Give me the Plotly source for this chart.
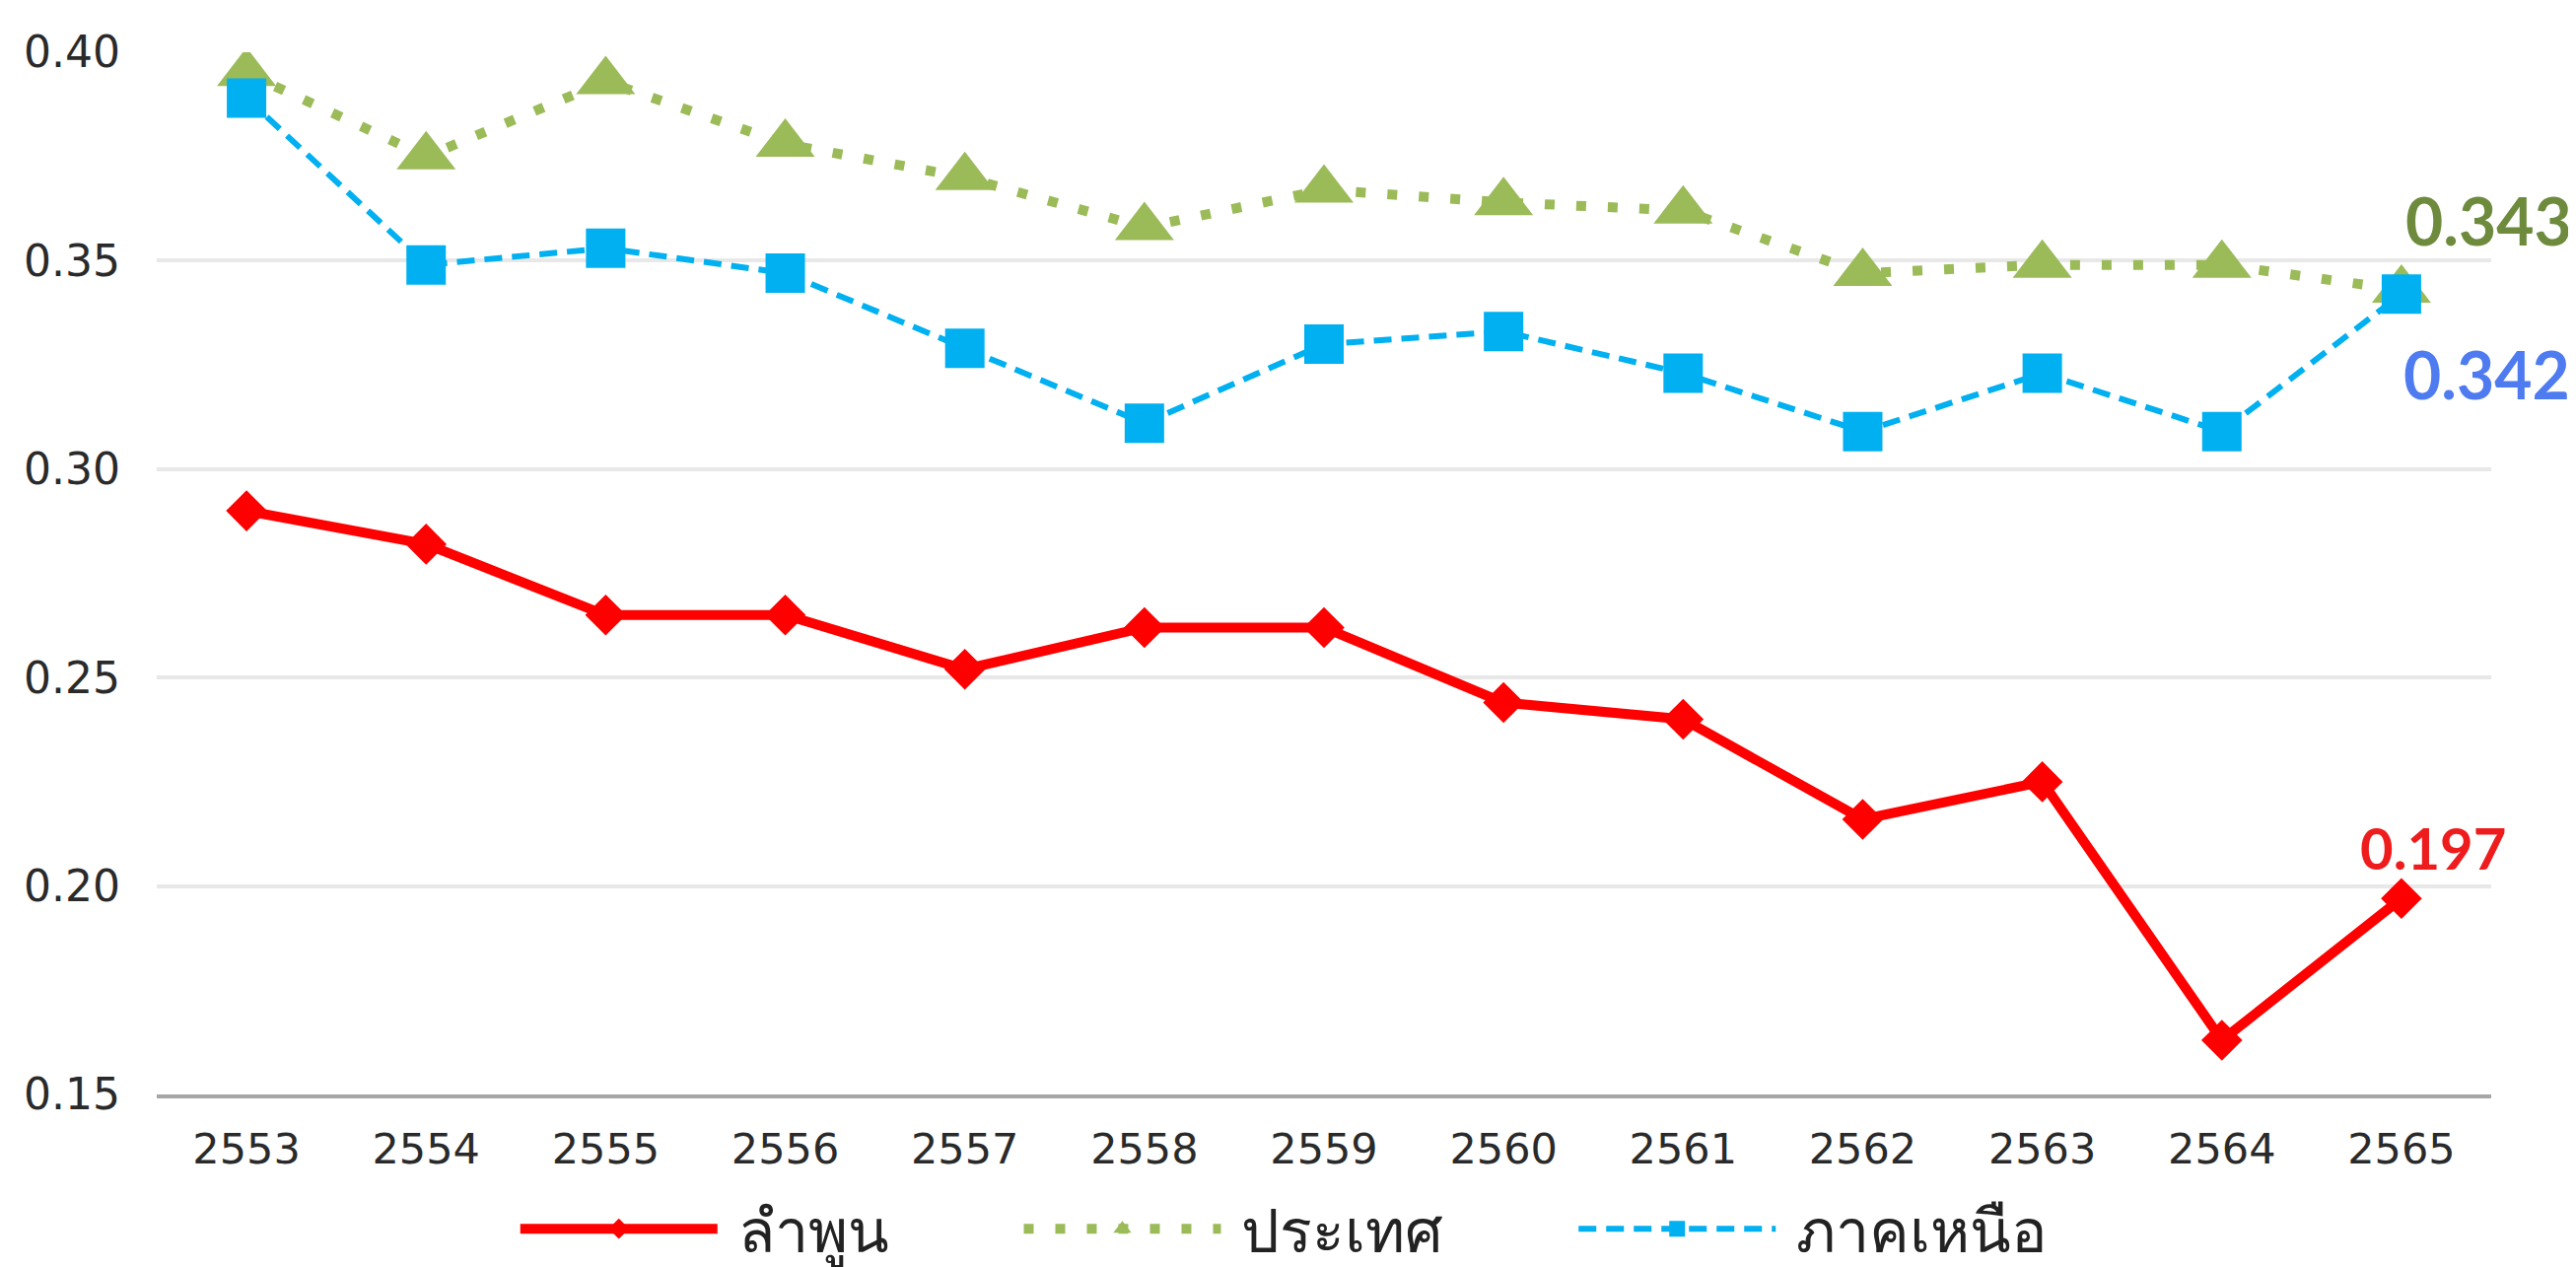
import plotly.graph_objects as go

years = ["2553", "2554", "2555", "2556", "2557", "2558", "2559", "2560", "2561", "2562", "2563", "2564", "2565"]
lamphun = [0.290, 0.282, 0.265, 0.265, 0.252, 0.262, 0.262, 0.244, 0.240, 0.216, 0.225, 0.163, 0.197]
country = [0.395, 0.375, 0.393, 0.378, 0.370, 0.358, 0.367, 0.364, 0.362, 0.347, 0.349, 0.349, 0.343]
north = [0.389, 0.349, 0.353, 0.347, 0.329, 0.311, 0.330, 0.333, 0.323, 0.309, 0.323, 0.309, 0.342]
y_ticks = [0.15, 0.20, 0.25, 0.30, 0.35, 0.40]
y_tick_text = ["0.15", "0.20", "0.25", "0.30", "0.35", "0.40"]

RED = "#FF0000"
GREEN = "#9BBB59"
BLUE = "#00B0F0"
NB = "\u00a0"

fig = go.Figure()
fig.add_trace(go.Scatter(
    x=years, y=lamphun, name=NB + "ลำพูน" + NB * 8, mode="lines+markers",
    line=dict(color=RED, width=10),
    marker=dict(symbol="diamond", size=32, color=RED),
))
fig.add_trace(go.Scatter(
    x=years, y=country, name=NB + "ประเทศ" + NB * 8, mode="lines+markers",
    line=dict(color=GREEN, width=10, dash="10px,22px"),
    marker=dict(symbol="triangle-up", size=52, color=GREEN),
))
fig.add_trace(go.Scatter(
    x=years, y=north, name=NB + "ภาคเหนือ", mode="lines+markers",
    line=dict(color=BLUE, width=6, dash="18px,10px"),
    marker=dict(symbol="square", size=40, color=BLUE),
))

last = len(years) - 1
ann_font = "Lato, Roboto, sans-serif"
fig.add_annotation(x=last, y=country[-1], text=f"<b>{country[-1]:.3f}</b>", showarrow=False,
                   xanchor="left", yanchor="middle", xshift=2, yshift=71,
                   font=dict(family=ann_font, size=66, color="#6E8B3D"))
fig.add_annotation(x=last, y=north[-1], text=f"<b>{north[-1]:.3f}</b>", showarrow=False,
                   xanchor="left", yanchor="middle", xshift=0, yshift=-81,
                   font=dict(family=ann_font, size=66, color="#4F7BF0"))
fig.add_annotation(x=last, y=lamphun[-1], text=f"<b>{lamphun[-1]:.3f}</b>", showarrow=False,
                   xanchor="center", yanchor="middle", xshift=32, yshift=52,
                   font=dict(family=ann_font, size=58, color="#EE1C1C"))

fig.update_layout(
    width=2613, height=1285,
    margin=dict(l=151, r=94, t=45, b=183, autoexpand=False),
    paper_bgcolor="white", plot_bgcolor="white",
    showlegend=True,
    legend=dict(orientation="h", x=0.483, xanchor="center",
                yref="container", y=0.0, yanchor="bottom",
                font=dict(family="Tahoma, Noto Sans, sans-serif", size=61, color="#222"),
                itemwidth=200, tracegroupgap=0),
    font=dict(family="DejaVu Sans, Tahoma, sans-serif", color="#333"),
)
fig.update_xaxes(
    type="category", range=[-0.5, last + 0.5], showgrid=False, showline=True,
    linecolor="#A6A6A6", linewidth=4,
    ticks="", tickfont=dict(size=43, color="#2a2a2a"), ticklabelstandoff=14,
)
fig.update_yaxes(
    range=[0.15, 0.40], tickvals=y_ticks, ticktext=y_tick_text,
    showgrid=True, gridcolor="#E8E8E8", gridwidth=4, zeroline=False, showline=False,
    tickfont=dict(size=44, color="#2a2a2a"), ticklabelstandoff=36,
)

fig.write_html("out.html")
